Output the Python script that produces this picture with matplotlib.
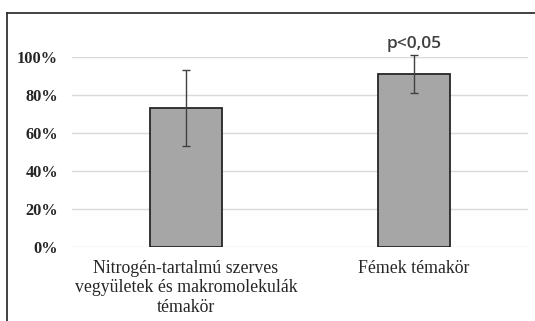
import matplotlib
matplotlib.use("Agg")
import matplotlib.pyplot as plt
from matplotlib.lines import Line2D

categories = ["Nitrogén-tartalmú szerves\nvegyületek és makromolekulák\ntémakör", "Fémek témakör"]
values = [0.73, 0.91]
errors = [0.20, 0.10]
yticks = [0, 0.2, 0.4, 0.6, 0.8, 1.0]
ytick_labels = ["0%", "20%", "40%", "60%", "80%", "100%"]
annotation = "p<0,05"

fig = plt.figure(figsize=(5.35, 3.21), dpi=100)
ax = fig.add_axes([0.1346, 0.2305, 0.8523, 0.5919])

x = range(len(categories))
ax.bar(x, values, width=0.316, color="#a6a6a6", edgecolor="#262626", linewidth=1.3, zorder=3)
eb = ax.errorbar(x, values, yerr=errors, fmt="none", ecolor="#404040", elinewidth=1.0,
                 capsize=3, capthick=1.0, zorder=4)
for art in eb.lines[1] + eb.lines[2]:
    art.set_clip_on(False)

ax.set_xlim(-0.5, 1.5)
ax.set_ylim(0, 1.0)
ax.set_yticks(yticks)
ax.set_yticklabels(ytick_labels, family="Liberation Serif", fontweight="bold",
                   fontsize=11.8, color="#262626")
ax.set_xticks(list(x))
ax.set_xticklabels(categories, family="Liberation Serif", fontsize=12.8,
                   color="#262626", linespacing=1.2)
ax.tick_params(axis="y", length=0, pad=10)
ax.tick_params(axis="x", length=0, pad=9)
ax.grid(axis="y", color="#d9d9d9", linewidth=1.0, zorder=0)
for s in ax.spines.values():
    s.set_visible(False)

ax.text(1, 1.07, annotation, ha="center", va="center", fontsize=12.5,
        family="Open Sans", fontweight="semibold", color="#404040", clip_on=False)

# frame lines of the original screenshot (left and top)
fig.add_artist(Line2D([7 / 535, 7 / 535], [0, 1 - 12.5 / 321], transform=fig.transFigure,
                      color="#333333", linewidth=1.3))
fig.add_artist(Line2D([7 / 535, 1], [1 - 12.5 / 321, 1 - 12.5 / 321], transform=fig.transFigure,
                      color="#333333", linewidth=1.3))

fig.savefig("out.png", dpi=100)
